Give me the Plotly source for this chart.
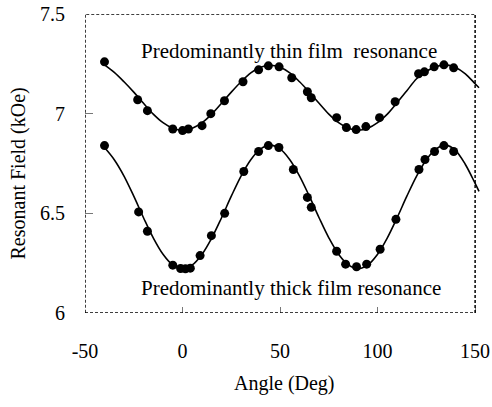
import plotly.graph_objects as go

# measured data points (Angle in deg, Resonant field in kOe)
thin_x = [-40, -23, -18, -5, 0, 3, 10, 14.5, 21.5, 31, 39, 44, 49.5, 56, 64, 66,
          79, 84, 89, 94, 101, 109, 121, 124, 129, 134, 139]
thin_y = [7.26, 7.07, 7.015, 6.923, 6.915, 6.923, 6.94, 7.0, 7.065, 7.16, 7.22, 7.24,
          7.235, 7.18, 7.11, 7.08, 6.98, 6.93, 6.92, 6.935, 6.98, 7.06, 7.20, 7.21,
          7.235, 7.245, 7.23]

thick_x = [-40, -22.5, -18, -5, -1, 1.5, 4, 9, 14.8, 21.6, 31.4, 39, 44, 49.4, 56.8,
           64, 66, 79, 83.6, 89.2, 94.4, 101.3, 109.4, 121.2, 124.3, 129.2, 134, 139]
thick_y = [6.84, 6.507, 6.41, 6.24, 6.223, 6.222, 6.225, 6.288, 6.388, 6.50, 6.71,
           6.81, 6.84, 6.83, 6.72, 6.58, 6.53, 6.31, 6.245, 6.232, 6.245, 6.32, 6.47,
           6.72, 6.77, 6.81, 6.84, 6.81]

# fitted curves
fit_x = [-40, -35, -30, -25, -20, -15, -10, -5, 0, 5, 10, 15, 20, 25, 30, 35, 40, 45,
         50, 55, 60, 65, 70, 75, 80, 85, 90, 95, 100, 105, 110, 115, 120, 125, 130,
         135, 140, 145, 150, 152]
thin_fit = [7.245, 7.207, 7.16, 7.108, 7.052, 6.998, 6.955, 6.927, 6.917, 6.927,
            6.955, 6.998, 7.052, 7.108, 7.16, 7.205, 7.233, 7.243, 7.233, 7.205,
            7.16, 7.108, 7.052, 6.998, 6.955, 6.927, 6.917, 6.927, 6.955, 6.998,
            7.055, 7.115, 7.175, 7.213, 7.236, 7.245, 7.232, 7.20, 7.15, 7.13]
thick_fit = [6.83, 6.769, 6.687, 6.586, 6.478, 6.377, 6.295, 6.241, 6.222, 6.241,
             6.295, 6.377, 6.478, 6.586, 6.687, 6.769, 6.823, 6.842, 6.823, 6.769,
             6.687, 6.586, 6.478, 6.377, 6.295, 6.241, 6.222, 6.241, 6.295, 6.377,
             6.478, 6.586, 6.687, 6.769, 6.823, 6.842, 6.815, 6.745, 6.65, 6.61]

x_ticks = [-50, 0, 50, 100, 150]
y_ticks = [6, 6.5, 7, 7.5]
y_labels = ["6", "6.5", "7", "7.5"]

font = "Liberation Serif"
tfont = dict(family=font, size=20, color="black")
afont = dict(family=font, size=21, color="black")

fig = go.Figure()
for fy in (thin_fit, thick_fit):
    fig.add_trace(go.Scatter(x=fit_x, y=fy, mode="lines", line_shape="spline",
                             line=dict(color="black", width=1.6), showlegend=False,
                             hoverinfo="skip"))
for px, py in ((thin_x, thin_y), (thick_x, thick_y)):
    fig.add_trace(go.Scatter(x=px, y=py, mode="markers",
                             marker=dict(color="black", size=9), showlegend=False))

fig.add_shape(type="rect", xref="x", yref="y", x0=-50, x1=150, y0=6, y1=7.5,
              line=dict(color="black", width=1.5, dash="3px,2px"), layer="above")

fig.add_annotation(x=54.5, y=7.315, xref="x", yref="y", showarrow=False,
                   xanchor="center", yanchor="middle",
                   text="Predominantly thin film\u00a0 resonance", font=afont)
fig.add_annotation(x=55.5, y=6.125, xref="x", yref="y", showarrow=False,
                   xanchor="center", yanchor="middle",
                   text="Predominantly thick film resonance", font=afont)

# axis titles
fig.add_annotation(x=-0.1696, y=6.7, xref="paper", yref="y", showarrow=False,
                   xanchor="center", yanchor="middle",
                   text="Resonant Field (kOe)", textangle=-90, font=tfont)
fig.add_annotation(x=52.5, y=-0.235, xref="x", yref="paper", showarrow=False,
                   xanchor="center", yanchor="middle",
                   text="Angle (Deg)", font=tfont)

fig.update_xaxes(range=[-50, 152.5], tickvals=x_ticks, ticktext=[str(v) for v in x_ticks],
                 ticks="inside", ticklen=6, tickcolor="#777", tickwidth=1,
                 showgrid=False, zeroline=False, showline=False, automargin=False,
                 ticklabelstandoff=24, tickfont=tfont)
fig.update_yaxes(range=[6, 7.5], tickvals=y_ticks, ticktext=y_labels,
                 ticks="inside", ticklen=8, tickcolor="#777", tickwidth=1,
                 showgrid=False, zeroline=False, showline=False, automargin=False,
                 ticklabelstandoff=19, tickfont=tfont)

fig.update_layout(width=492, height=407, margin=dict(l=85, r=12, t=14, b=94),
                  plot_bgcolor="white", paper_bgcolor="white")

fig.write_html("out.html")
